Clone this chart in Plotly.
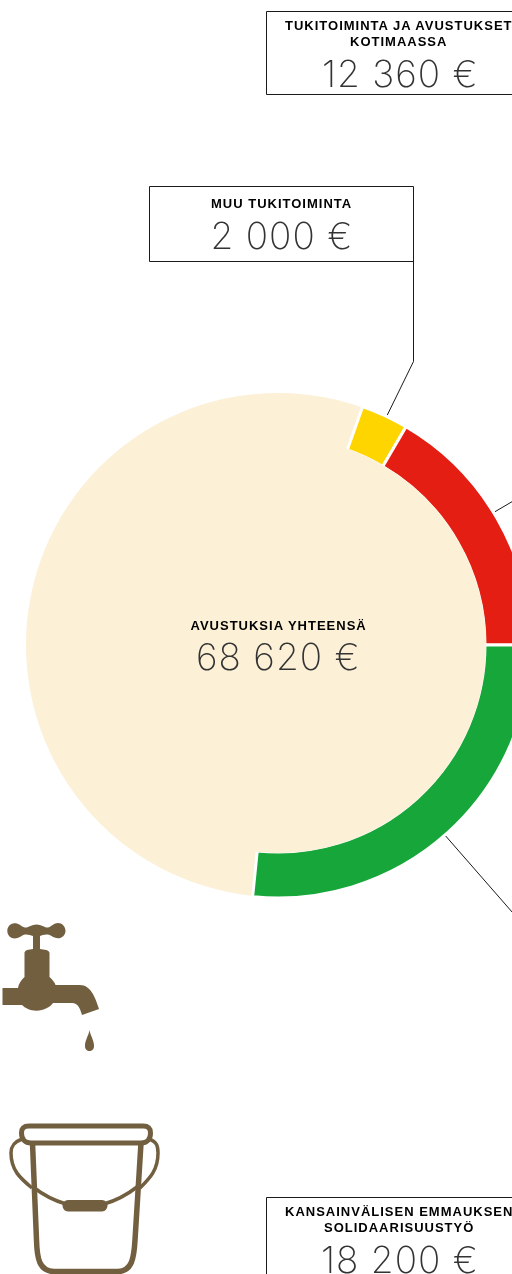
import plotly.graph_objects as go

# --- data ---
slice_names = ["Muu tukitoiminta", "Tukitoiminta ja avustukset kotimaassa",
               "Kansainvälisen Emmauksen solidaarisuustyö", "Muu osuus"]
# arc sizes as drawn (the red arc is drawn a little shorter than its label says)
slice_values = [2070, 11360, 18250, 36940]
slice_colors = ["#FFD500", "#E41E13", "#16A63A", "rgba(0,0,0,0)"]
total_label = ["AVUSTUKSIA YHTEENSÄ"]
total_value = "68 620 €"
box_titles = [["TUKITOIMINTA JA AVUSTUKSET", "KOTIMAASSA"],
              ["MUU TUKITOIMINTA"],
              ["KANSAINVÄLISEN EMMAUKSEN", "SOLIDAARISUUSTYÖ"]]
box_values = ["12 360 €", "2 000 €", "18 200 €"]

CREAM = "#FCF0D6"
BROWN = "#715F3F"
W, H = 800, 1400
CX, CY, R_OUT, R_IN = 278, 645, 252, 208
TITLE_FONT = dict(family="Liberation Sans", size=13, color="#000000", weight=700)
VALUE_FONT = dict(family="Inter", size=37, color="#333333", weight=200)


def dom(r):
    return dict(x=[(CX - r) / W, (CX + r) / W], y=[1 - (CY + r) / H, 1 - (CY - r) / H])


fig = go.Figure()
fig.add_trace(go.Scatter(x=[], y=[], showlegend=False))
# cream disc
fig.add_trace(go.Pie(values=[1], labels=["Avustuksia yhteensä"], domain=dom(R_OUT), sort=False,
                     marker=dict(colors=[CREAM], line=dict(width=0)), textinfo="none",
                     showlegend=False, hoverinfo="skip"))
# coloured ring, white borders give the gaps
fig.add_trace(go.Pie(values=slice_values, labels=slice_names, domain=dom(R_OUT + 1), sort=False,
                     direction="clockwise", rotation=19.55, hole=(R_IN - 1) / (R_OUT + 1),
                     marker=dict(colors=slice_colors, line=dict(color="white", width=[3, 3, 3, 0])),
                     textinfo="none", showlegend=False))
# inner cream disc covers the inner edge of the border
fig.add_trace(go.Pie(values=[1], labels=["Sisäosa"], domain=dom(R_IN), sort=False,
                     marker=dict(colors=[CREAM], line=dict(width=0)), textinfo="none",
                     showlegend=False, hoverinfo="skip"))

shapes = []
LINE = dict(color="#1a1a1a", width=1)
for x0, y0, x1, y1 in [(266.5, 11.5, 532, 94.5), (149.5, 186.5, 413.5, 261.5), (266.5, 1197.5, 532, 1290)]:
    shapes.append(dict(type="rect", x0=x0, y0=y0, x1=x1, y1=y1, line=LINE, xref="x", yref="y"))
for p in ["M413.5,197 L413.5,361.5 L387.3,415",
          "M495,511.7 L540,485.2",
          "M445.7,836 L540,944"]:
    shapes.append(dict(type="path", path=p, line=LINE, xref="x", yref="y"))

# tap
tap = ("M7.3,931 C7.3,926 11,923.2 14.5,923.2 C19,923.2 21,926 24,927.3 C28,928.6 31,924.5 36.5,924.5 "
       "C42,924.5 45,928.6 49,927.3 C52,926 54,923 58,923 C62,923 65.5,926.5 65.5,931 C65.5,935 62,938.3 58,938.3 "
       "C54,938.3 52,936 49,934.8 C46,934 42,935 40,936 L40,949 C44,949.5 49.5,950 49.5,953 L49.5,977 "
       "C53,980 55,983 55.5,985 L80,985 C90,985 95,996 99,1009 L82,1015 C80,1008 78,1003 72,1003 L53,1003 "
       "C50,1007 44,1010.7 36.5,1010.7 C30,1010.7 25,1008 22,1005 L2.5,1005 L2.5,988 L18,988 "
       "C18.5,984 21,980 24.5,977 L24.5,953 C24.5,950 29,949.5 33,949 L33,936 C30,935 27,934 24,934.8 "
       "C21,936 19,938.5 14.5,938.5 C11,938.5 7.3,935.5 7.3,931 Z")
shapes.append(dict(type="path", path=tap, fillcolor=BROWN, line=dict(width=0), xref="x", yref="y"))
drop = "M89.5,1030 C90.5,1036 94,1040 94,1046 C94,1049.5 92,1051 89.5,1051 C87,1051 85,1049.5 85,1046 C85,1040 88.5,1036 89.5,1030 Z"
shapes.append(dict(type="path", path=drop, fillcolor=BROWN, line=dict(width=0), xref="x", yref="y"))

# bucket
BUCKET = dict(color=BROWN, width=5)
rim = "M29,1126 L143,1126 C149,1126 150.5,1129 150.5,1133 C150.5,1139 147,1143 141,1143 L31,1143 C25,1143 21.5,1139 21.5,1133 C21.5,1129 23,1126 29,1126 Z"
body = "M32.5,1143 L36.5,1240 C37,1258 39,1271 54,1271.5 L118,1271.5 C132,1271 134,1258 135,1240 L141,1143"
shapes.append(dict(type="path", path=rim, line=BUCKET, xref="x", yref="y"))
shapes.append(dict(type="path", path=body, line=dict(color=BROWN, width=5.5), xref="x", yref="y"))
for p in ["M22,1139 C14,1142 11,1146 11,1153 C11,1170 20,1178 32,1188",
          "M149,1139 C157,1142 158,1146 158,1153 C158,1170 150,1178 140,1188",
          "M33,1187 C42,1194 52,1200 66,1204",
          "M137,1187 C128,1194 118,1200 104,1204"]:
    shapes.append(dict(type="path", path=p, line=dict(color=BROWN, width=3.5), xref="x", yref="y"))
shapes.append(dict(type="path", fillcolor=BROWN, line=dict(width=0), xref="x", yref="y",
                   path="M68,1200 L102,1200 C105,1200 107.5,1203 107.5,1205.5 C107.5,1208.5 105,1211.5 102,1211.5 L68,1211.5 C65,1211.5 62.5,1208.5 62.5,1205.5 C62.5,1203 65,1200 68,1200 Z"))


def text(s, x, y, font):
    return dict(text=s, x=x, y=y, xref="x", yref="y", showarrow=False, font=font,
                xanchor="center", yanchor="middle")


ann = []
ann += [text(box_titles[0][0], 399, 25, TITLE_FONT), text(box_titles[0][1], 399, 41.5, TITLE_FONT)]
ann += [text(box_values[0], 400, 73, VALUE_FONT)]
ann += [text(box_titles[1][0], 281.5, 203, TITLE_FONT), text(box_values[1], 282, 235, VALUE_FONT)]
ann += [text(total_label[0], 278.5, 625, TITLE_FONT), text(total_value, 278.5, 656.5, VALUE_FONT)]
ann += [text(box_titles[2][0], 398.5, 1211, TITLE_FONT), text(box_titles[2][1], 398.5, 1227, TITLE_FONT)]
ann += [text(box_values[2], 400, 1259, VALUE_FONT)]

fig.update_layout(width=W, height=H, margin=dict(l=0, r=0, t=0, b=0), autosize=False,
                  paper_bgcolor="white", plot_bgcolor="rgba(0,0,0,0)", showlegend=False,
                  xaxis=dict(range=[0, W], visible=False, domain=[0, 1]),
                  yaxis=dict(range=[H, 0], visible=False, domain=[0, 1]),
                  shapes=shapes, annotations=ann)

fig.write_html("out.html", config=dict(displayModeBar=False),
               post_script="document.documentElement.style.overflow='hidden';"
                           "document.body.style.overflow='hidden';document.body.style.margin='0';"
                           "document.querySelectorAll('.plot-container').forEach(function(c){c.style.willChange='transform';});"
                           "document.querySelectorAll('.annotation-text').forEach(function(t){"
                           "var s=parseFloat(t.style.fontSize);"
                           "t.style.letterSpacing=s>20?'1px':'1px';});")
